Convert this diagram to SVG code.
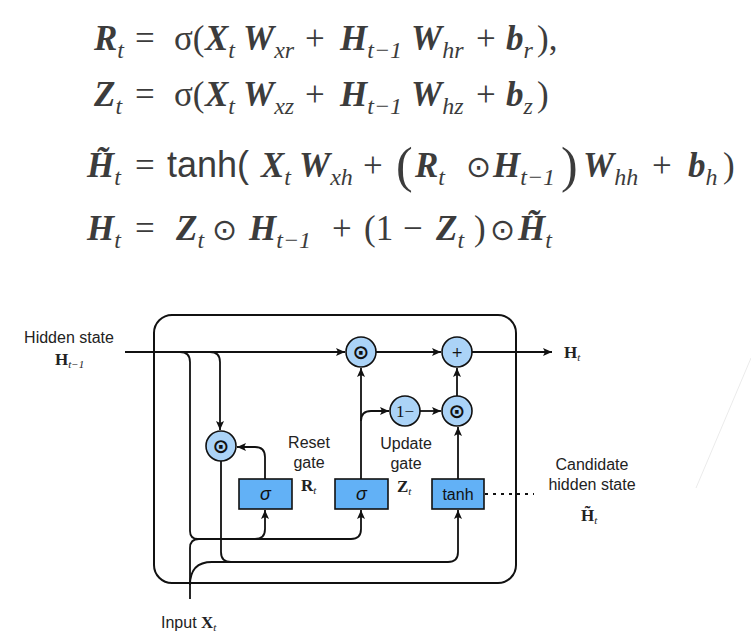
<svg xmlns="http://www.w3.org/2000/svg" width="751" height="639" viewBox="0 0 751 639">
<style>
.eq{font-family:"Liberation Serif","Times New Roman",serif;font-size:35px;fill:#3c3c3c}
.v{font-weight:bold;font-style:italic}
.s{font-style:italic;font-size:24px}
.odot{font-family:"DejaVu Sans",sans-serif;font-size:30px}
.lbl{font-family:"Liberation Sans",Arial,sans-serif;font-size:16px;fill:#222}
.bs{font-family:"Liberation Serif","Times New Roman",serif;font-weight:bold;font-size:17px;fill:#222}
.sub{font-family:"Liberation Serif","Times New Roman",serif;font-style:italic;font-size:11px;fill:#222}
.ln{fill:none;stroke:#111;stroke-width:1.8}
.box{fill:#62b1f6;stroke:#111;stroke-width:1.6}
.cir{fill:#abd3f7;stroke:#111;stroke-width:1.6}
.op{font-family:"DejaVu Sans",sans-serif;font-size:20px;font-weight:bold;fill:#111;text-anchor:middle}
</style>
<defs>
<marker id="ah" markerUnits="userSpaceOnUse" markerWidth="10" markerHeight="8" refX="9" refY="4" orient="auto">
<path d="M0,0 L9,4 L0,8 L2,4 z" fill="#111"/>
</marker>
</defs>

<g id="equations">
<text class="eq" y="50"><tspan x="94" class="v">R</tspan><tspan class="s" dy="8">t</tspan><tspan x="135" dy="-8">=</tspan><tspan x="174">σ(</tspan><tspan x="205" class="v">X</tspan><tspan class="s" dy="8">t</tspan><tspan x="243" dy="-8" class="v">W</tspan><tspan class="s" dy="8">xr</tspan><tspan x="305" dy="-8">+</tspan><tspan x="340" class="v">H</tspan><tspan class="s" dy="8">t−1</tspan><tspan x="411" dy="-8" class="v">W</tspan><tspan class="s" dy="8">hr</tspan><tspan x="476" dy="-8">+</tspan><tspan x="506" class="v">b</tspan><tspan class="s" dy="8">r</tspan><tspan x="537" dy="-8">),</tspan></text>
<text class="eq" y="106"><tspan x="94" class="v">Z</tspan><tspan class="s" dy="8">t</tspan><tspan x="135" dy="-8">=</tspan><tspan x="174">σ(</tspan><tspan x="205" class="v">X</tspan><tspan class="s" dy="8">t</tspan><tspan x="243" dy="-8" class="v">W</tspan><tspan class="s" dy="8">xz</tspan><tspan x="305" dy="-8">+</tspan><tspan x="340" class="v">H</tspan><tspan class="s" dy="8">t−1</tspan><tspan x="411" dy="-8" class="v">W</tspan><tspan class="s" dy="8">hz</tspan><tspan x="476" dy="-8">+</tspan><tspan x="506" class="v">b</tspan><tspan class="s" dy="8">z</tspan><tspan x="537" dy="-8">)</tspan></text>
<text class="eq" y="177"><tspan x="87" class="v">H̃</tspan><tspan class="s" dy="8">t</tspan><tspan x="135" dy="-8">=</tspan><tspan x="167" style="font-family:'Liberation Sans',Arial,sans-serif;font-size:36px">tanh(</tspan><tspan x="261" class="v">X</tspan><tspan class="s" dy="8">t</tspan><tspan x="299" dy="-8" class="v">W</tspan><tspan class="s" dy="8">xh</tspan><tspan x="363" dy="-8">+</tspan><tspan x="415" class="v">R</tspan><tspan class="s" dy="8">t</tspan><tspan x="466" dy="-8" class="odot">⊙</tspan><tspan x="493" class="v">H</tspan><tspan class="s" dy="8">t−1</tspan><tspan x="583" dy="-8" class="v">W</tspan><tspan class="s" dy="8">hh</tspan><tspan x="652" dy="-8">+</tspan><tspan x="688" class="v">b</tspan><tspan class="s" dy="8">h</tspan><tspan x="723" dy="-8">)</tspan></text>
<text class="eq" x="396" y="182" style="font-size:50px">(</text>
<text class="eq" x="561" y="182" style="font-size:50px">)</text>
<text class="eq" y="240"><tspan x="87" class="v">H</tspan><tspan class="s" dy="8">t</tspan><tspan x="135" dy="-8">=</tspan><tspan x="176" class="v">Z</tspan><tspan class="s" dy="8">t</tspan><tspan x="212" dy="-8" class="odot">⊙</tspan><tspan x="249" class="v">H</tspan><tspan class="s" dy="8">t−1</tspan><tspan x="332" dy="-8">+</tspan><tspan x="364">(1</tspan><tspan x="403">−</tspan><tspan x="436" class="v">Z</tspan><tspan class="s" dy="8">t</tspan><tspan x="474" dy="-8">)</tspan><tspan x="490" class="odot">⊙</tspan><tspan x="518" class="v">H̃</tspan><tspan class="s" dy="8">t</tspan></text>
</g>

<g id="cell">
<rect x="154" y="315" width="362" height="268" rx="18" ry="18" fill="none" stroke="#111" stroke-width="2"/>
</g>

<g id="connectors">
<path class="ln" d="M125,352 H345" marker-end="url(#ah)"/>
<path class="ln" d="M376,352 H441" marker-end="url(#ah)"/>
<path class="ln" d="M472,352 H552" marker-end="url(#ah)"/>
<path class="ln" d="M180,352 Q190,352 190,362 V531 Q190,539 198,539 H255 Q265,539 265,529 V510" marker-end="url(#ah)"/>
<path class="ln" d="M255,539 H351 Q361,539 361,529 V510" marker-end="url(#ah)"/>
<path class="ln" d="M210,352 Q220,352 220,362 V430" marker-end="url(#ah)"/>
<path class="ln" d="M190,599 V548 Q190,539 199,539"/>
<path class="ln" d="M190,585 Q190,562 212,562 H448 Q458,562 458,552 V510" marker-end="url(#ah)"/>
<path class="ln" d="M221,461 V552 Q221,562 231,562"/>
<path class="ln" d="M265,479 V457 Q265,447 255,447 H237" marker-end="url(#ah)"/>
<path class="ln" d="M361,479 V368" marker-end="url(#ah)"/>
<path class="ln" d="M361,421 Q361,411 371,411 H389" marker-end="url(#ah)"/>
<path class="ln" d="M420,411 H441" marker-end="url(#ah)"/>
<path class="ln" d="M457,396 V368" marker-end="url(#ah)"/>
<path class="ln" d="M458,479 V427" marker-end="url(#ah)"/>
<path d="M485,494 H534" fill="none" stroke="#111" stroke-width="1.8" stroke-dasharray="3 5"/>
</g>

<g id="reset_mul"><circle class="cir" cx="221" cy="446" r="15"/><text class="op" x="221" y="453">⊙</text></g>
<g id="z_mul"><circle class="cir" cx="361" cy="352" r="15"/><text class="op" x="361" y="359">⊙</text></g>
<g id="plus"><circle class="cir" cx="457" cy="352" r="15"/><text class="op" x="457" y="357" style="font-size:14px;font-weight:normal">+</text></g>
<g id="one_minus"><circle class="cir" cx="405" cy="411" r="15"/><text x="405" y="417" text-anchor="middle" style="font-family:'Liberation Serif',serif;font-size:17px;fill:#111">1−</text></g>
<g id="cand_mul"><circle class="cir" cx="457" cy="411" r="15"/><text class="op" x="457" y="418">⊙</text></g>

<g id="reset_gate"><rect class="box" x="239" y="479" width="53" height="30"/><text x="265.5" y="500" text-anchor="middle" style="font-family:'Liberation Sans',sans-serif;font-style:italic;font-size:18px;fill:#111">σ</text></g>
<g id="update_gate"><rect class="box" x="335" y="479" width="53" height="30"/><text x="361.5" y="500" text-anchor="middle" style="font-family:'Liberation Sans',sans-serif;font-style:italic;font-size:18px;fill:#111">σ</text></g>
<g id="tanh_box"><rect class="box" x="432" y="479" width="52" height="30"/><text x="458" y="500" text-anchor="middle" class="lbl" style="fill:#111">tanh</text></g>

<g id="labels">
<text class="lbl" x="69" y="343" text-anchor="middle">Hidden state</text>
<text x="55" y="365"><tspan class="bs">H</tspan><tspan class="sub" dy="3">t−1</tspan></text>
<text x="564" y="358"><tspan class="bs">H</tspan><tspan class="sub" dy="3">t</tspan></text>
<text class="lbl" x="309" y="448" text-anchor="middle">Reset</text>
<text class="lbl" x="309" y="468" text-anchor="middle">gate</text>
<text x="301" y="491"><tspan class="bs">R</tspan><tspan class="sub" dy="3">t</tspan></text>
<text class="lbl" x="406" y="449" text-anchor="middle">Update</text>
<text class="lbl" x="406" y="469" text-anchor="middle">gate</text>
<text x="397" y="492"><tspan class="bs">Z</tspan><tspan class="sub" dy="3">t</tspan></text>
<text class="lbl" x="592" y="470" text-anchor="middle">Candidate</text>
<text class="lbl" x="592" y="490" text-anchor="middle">hidden state</text>
<text x="581" y="521"><tspan class="bs">H̃</tspan><tspan class="sub" dy="3">t</tspan></text>
<text x="161" y="628"><tspan class="lbl">Input </tspan><tspan class="bs">X</tspan><tspan class="sub" dy="3">t</tspan></text>
</g>

<path d="M751,358 L696,488" stroke="#ebebeb" stroke-width="1" fill="none"/>
</svg>
